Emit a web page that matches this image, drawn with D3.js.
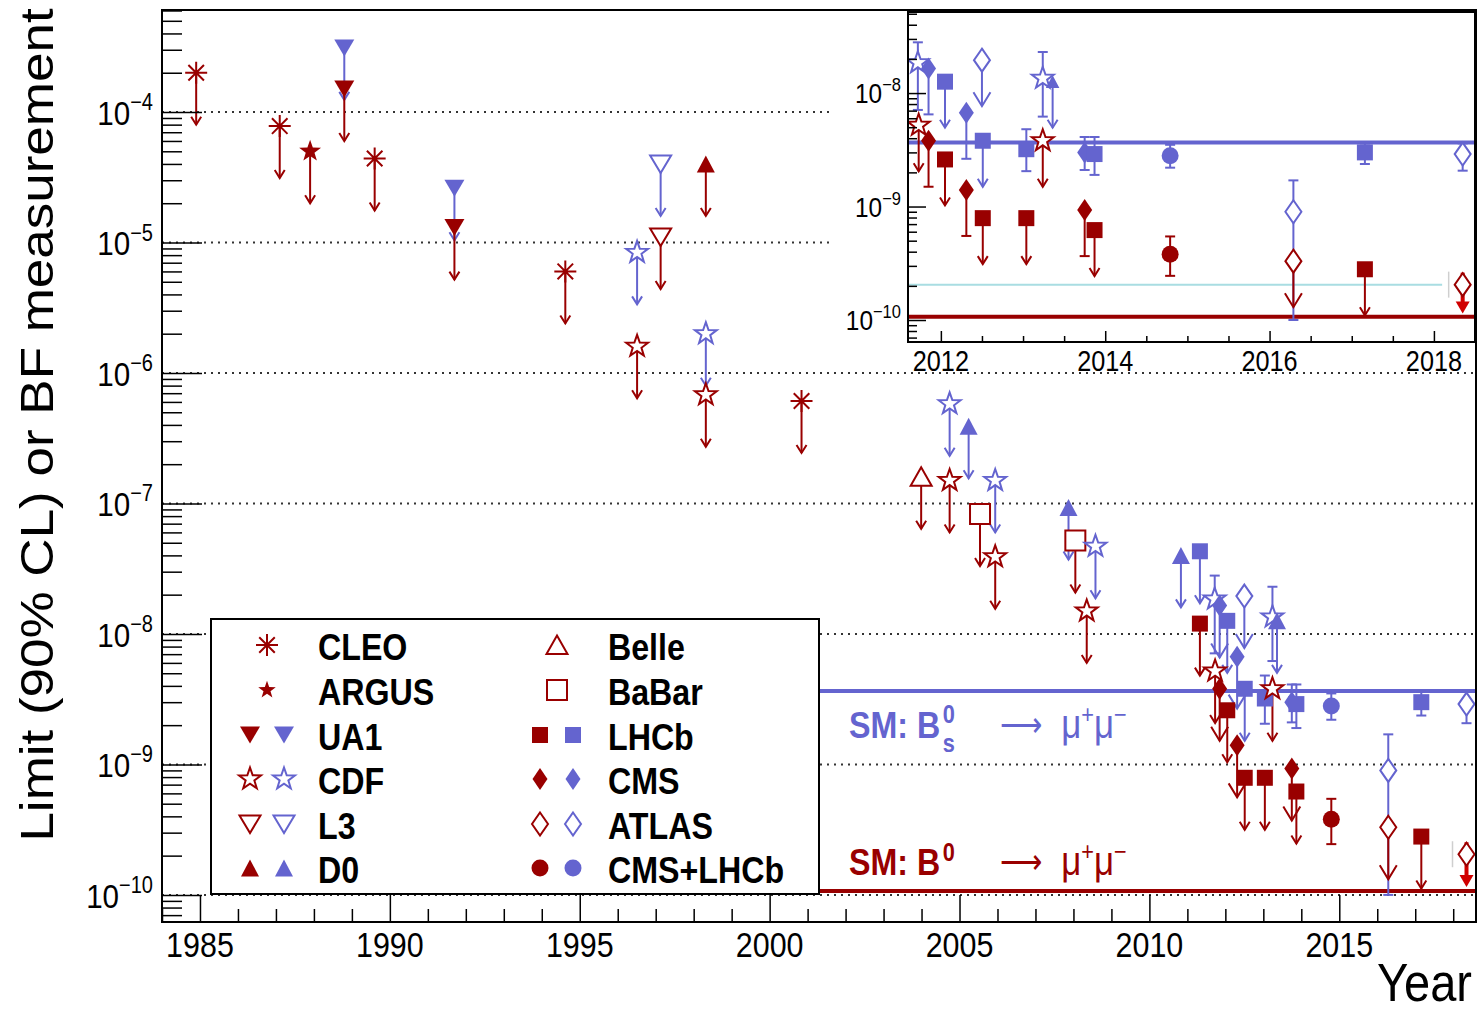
<!DOCTYPE html>
<html><head><meta charset="utf-8">
<script src="https://cdn.jsdelivr.net/npm/d3@7"></script>
<style>
html,body{margin:0;padding:0;background:#fff;}
svg{display:block;}
text{font-family:"Liberation Sans",Arial,Helvetica,sans-serif;}
</style></head><body>
<svg id="c" width="1480" height="1015"></svg>
<script>
// ---------------- data ----------------
const legendCol1 = ["CLEO","ARGUS","UA1","CDF","L3","D0"];
const legendCol2 = ["Belle","BaBar","LHCb","CMS","ATLAS","CMS+LHCb"];
const singleColourExps = ["CLEO","ARGUS","Belle","BaBar"];

const pointExp = ["CLEO","CLEO","ARGUS","UA1","UA1","CLEO","UA1","UA1","CLEO","CDF",
  "CDF","L3","L3","D0","CDF","CDF","CLEO","Belle","CDF","CDF",
  "D0","BaBar","CDF","CDF","D0","BaBar","CDF","CDF","D0","LHCb",
  "LHCb","CDF","CDF","CMS","CMS","LHCb","LHCb","CMS","CMS","ATLAS",
  "LHCb","LHCb","LHCb","LHCb","CDF","CDF","D0","CMS","CMS","LHCb",
  "LHCb","CMS+LHCb","CMS+LHCb","ATLAS","ATLAS","LHCb","LHCb","ATLAS","ATLAS"];
const pointDecay = ["B0","B0","B0","Bs","B0","B0","Bs","B0","B0","Bs",
  "B0","Bs","B0","B0","Bs","B0","B0","B0","Bs","B0",
  "Bs","B0","Bs","B0","Bs","B0","B0","Bs","Bs","Bs",
  "B0","Bs","B0","Bs","B0","Bs","B0","Bs","B0","Bs",
  "Bs","B0","Bs","B0","Bs","B0","Bs","Bs","B0","Bs",
  "B0","Bs","B0","Bs","B0","Bs","B0","Bs","B0"];
const pointYear = [1984.9,1987.1,1987.9,1988.8,1988.8,1989.6,1991.7,1991.7,1994.62,1996.51,
  1996.51,1997.13,1997.13,1998.32,1998.32,1998.32,2000.84,2003.99,2004.74,2004.74,
  2005.24,2005.54,2005.94,2005.94,2007.87,2008.05,2008.35,2008.58,2010.83,2011.33,
  2011.33,2011.72,2011.73,2011.85,2011.85,2012.05,2012.05,2012.31,2012.31,2012.5,
  2012.51,2012.51,2013.04,2013.04,2013.24,2013.24,2013.36,2013.75,2013.75,2013.87,
  2013.87,2014.79,2014.79,2016.29,2016.29,2017.16,2017.16,2018.35,2018.35];
const pointValue = [2.0e-4,7.8e-5,5.0e-5,3.1e-4,1.5e-4,4.4e-5,2.6e-5,1.3e-5,6.0e-6,8.4e-6,
  1.6e-6,4.0e-5,1.1e-5,4.0e-5,2.0e-6,6.8e-7,6.1e-7,1.6e-7,5.8e-7,1.5e-7,
  3.9e-7,8.3e-8,1.5e-7,3.9e-8,9.3e-8,5.2e-8,1.5e-8,4.7e-8,4.0e-8,4.3e-8,
  1.2e-8,1.85e-8,5.2e-9,1.65e-8,3.8e-9,1.26e-8,2.6e-9,6.7e-9,1.4e-9,1.95e-8,
  3.8e-9,7.9e-10,3.2e-9,7.9e-10,1.35e-8,3.8e-9,1.26e-8,3.0e-9,9.3e-10,2.9e-9,
  6.2e-10,2.8e-9,3.8e-10,9.0e-10,3.3e-10,3.0e-9,2.8e-10,2.9e-9,2.05e-10];
// "L" = upper limit, "M" = measurement with errors, "B" = bold limit
const pointKind = ["L","L","L","L","L","L","L","L","L","L",
  "L","L","L","L","L","L","L","L","L","L",
  "L","L","L","L","L","L","L","L","L","L",
  "L","M","L","L","L","L","L","L","L","L",
  "L","L","M","L","M","L","L","M","L","M",
  "L","M","M","M","L","M","L","M","B"];
const pointErrLow = [null,null,null,null,null,null,null,null,null,null,
  null,null,null,null,null,null,null,null,null,null,
  null,null,null,null,null,null,null,null,null,null,
  null,7.1e-9,null,null,null,null,null,null,null,null,
  null,null,2.05e-9,null,6.2e-9,null,null,2.1e-9,null,1.9e-9,
  null,2.2e-9,2.45e-10,1.0e-10,null,2.37e-9,null,2.07e-9,null];
const pointErrHigh = [null,null,null,null,null,null,null,null,null,null,
  null,null,null,null,null,null,null,null,null,null,
  null,null,null,null,null,null,null,null,null,null,
  null,2.8e-8,null,null,null,null,null,null,null,null,
  null,null,4.8e-9,null,2.3e-8,null,null,4.1e-9,null,4.1e-9,
  null,3.5e-9,5.45e-10,1.7e-9,null,3.6e-9,null,3.6e-9,null];

const smBs = 3.66e-9, smB0 = 1.07e-10, insetGuide = 2.05e-10;
const smLineStartYear = 2001.3, insetGuideEndYear = 2018.1;
const mainMajorYears = [1985,1990,1995,2000,2005,2010,2015];
const insetMajorYears = [2012,2014,2016,2018];
const mainDecades = [-4,-5,-6,-7,-8,-9,-10];
const insetDecades = [-8,-9,-10];

// ---------------- setup ----------------
const RED = "#990000", BLUE = "#6464cf";
const SQ = 0.87; // horizontal text compression of the original
const SERIF = "'Liberation Serif','Times New Roman',serif";
const svg = d3.select("#c");
svg.append("rect").attr("width",1480).attr("height",1015).attr("fill","#fff");

const M = {l:162, r:1476, t:10, b:922};
const I = {l:908, r:1475, t:12, b:342};
const xMain = d3.scaleLinear().domain([1984, 2018.6]).range([M.l, M.r]);
const yMain = d3.scaleLog().domain([6.2e-11, 6.05e-4]).range([M.b, M.t]);
const xIns = d3.scaleLinear().domain([2011.6, 2018.5]).range([I.l, I.r]);
const yIns = d3.scaleLog().domain([6.4e-11, 5.18e-8]).range([I.b, I.t]);

const defs = svg.append("defs");
defs.append("clipPath").attr("id","clipM").append("rect")
  .attr("x",M.l).attr("y",M.t).attr("width",M.r-M.l).attr("height",M.b-M.t);
defs.append("clipPath").attr("id","clipI").append("rect")
  .attr("x",I.l).attr("y",I.t).attr("width",I.r-I.l).attr("height",I.b-I.t);

const colOf = d => d === "Bs" ? BLUE : RED;

function starPath(R, r){
  const p = [];
  for (let i=0;i<10;i++){
    const a = -Math.PI/2 + i*Math.PI/5, rad = i%2 ? r : R;
    p.push([(rad*Math.cos(a)).toFixed(2),(rad*Math.sin(a)).toFixed(2)]);
  }
  return "M" + p.map(q=>q.join(",")).join("L") + "Z";
}
function drawMarker(g, exp, col, x, y, s){
  s = s || 1;
  const t = `translate(${x},${y}) scale(${s})`;
  const sw = 2/s;
  const P = d => g.append("path").attr("d", d).attr("transform", t);
  switch(exp){
    case "CLEO": {
      const R=11, a=R*0.707;
      P(`M${-R},0L${R},0M0,${-R}L0,${R}M${-a},${-a}L${a},${a}M${-a},${a}L${a},${-a}`)
        .attr("fill","none").attr("stroke",col).attr("stroke-width",sw); break; }
    case "ARGUS": P(starPath(11.5,4.6)).attr("fill",col); break;
    case "UA1": P("M-10,-8.5L10,-8.5L0,8.5Z").attr("fill",col); break;
    case "CDF": P(starPath(11.5,4.6)).attr("fill","#fff").attr("stroke",col).attr("stroke-width",sw); break;
    case "L3": P("M-10.5,-8.5L10.5,-8.5L0,9Z").attr("fill","#fff").attr("stroke",col).attr("stroke-width",sw); break;
    case "D0": P("M-9,8.5L9,8.5L0,-8.5Z").attr("fill",col); break;
    case "Belle": P("M-10.5,9L10.5,9L0,-9.5Z").attr("fill","#fff").attr("stroke",col).attr("stroke-width",sw); break;
    case "BaBar": P("M-10,-10H10V10H-10Z").attr("fill","#fff").attr("stroke",col).attr("stroke-width",sw); break;
    case "LHCb": P("M-8,-8H8V8H-8Z").attr("fill",col); break;
    case "CMS": P("M0,-11L7.5,0L0,11L-7.5,0Z").attr("fill",col); break;
    case "ATLAS": P("M0,-11.5L8,0L0,11.5L-8,0Z").attr("fill","#fff").attr("stroke",col).attr("stroke-width",sw); break;
    case "CMS+LHCb": g.append("circle").attr("cx",x).attr("cy",y).attr("r",8.5*s).attr("fill",col); break;
  }
}

function drawPoints(g, xs, ys, L, isInset){
  const lines = g.append("g").attr("stroke-width",2).attr("fill","none");
  const marks = g.append("g");
  pointYear.forEach((yr,i)=>{
    if (yr < xs.domain()[0] || yr > xs.domain()[1]) return;
    const exp = pointExp[i], col = colOf(pointDecay[i]);
    const x = xs(yr), y = ys(pointValue[i]);
    const kind = pointKind[i];
    if (kind === "L"){
      lines.append("line").attr("x1",x).attr("x2",x).attr("y1",y).attr("y2",y+L).attr("stroke",col);
      const big = (exp === "CMS" || exp === "ATLAS");
      if (isInset && exp === "CMS"){
        lines.append("line").attr("x1",x-5).attr("x2",x+5).attr("y1",y+L).attr("y2",y+L).attr("stroke",col);
      } else {
        const w = big ? 17 : 10, h = big ? 14 : 8;
        lines.append("path").attr("d",`M${x-w/2},${y+L-h}L${x},${y+L}L${x+w/2},${y+L-h}`).attr("stroke",col);
      }
    } else if (kind === "M"){
      const yl = Math.min(ys(Math.max(pointErrLow[i], ys.domain()[0])), ys.range()[0]);
      const yh = ys(pointErrHigh[i]);
      lines.append("line").attr("x1",x).attr("x2",x).attr("y1",yh).attr("y2",yl).attr("stroke",col);
      lines.append("line").attr("x1",x-5).attr("x2",x+5).attr("y1",yh).attr("y2",yh).attr("stroke",col);
      if (pointErrLow[i] > ys.domain()[0])
        lines.append("line").attr("x1",x-5).attr("x2",x+5).attr("y1",yl).attr("y2",yl).attr("stroke",col);
    } else if (kind === "B"){
      const y2 = y + L*0.63;
      lines.append("line").attr("x1",x-14).attr("x2",x-14).attr("y1",y-13).attr("y2",y+13)
        .attr("stroke","#cfcfcf").attr("stroke-width",1.5);
      lines.append("line").attr("x1",x).attr("x2",x).attr("y1",y-12).attr("y2",y2-8)
        .attr("stroke","#d00000").attr("stroke-width",4);
      lines.append("path").attr("d",`M${x-7},${y2-12}L${x+7},${y2-12}L${x},${y2}Z`)
        .attr("fill","#d00000").attr("stroke","none");
    }
    drawMarker(marks, exp, col, x, y, isInset && exp==="D0" ? 0.75 : 1);
  });
}

// ---------------- main plot ----------------
const gridG = svg.append("g").attr("clip-path","url(#clipM)");
mainDecades.forEach(k=>{
  gridG.append("line").attr("x1",M.l).attr("x2",M.r).attr("y1",yMain(Math.pow(10,k))).attr("y2",yMain(Math.pow(10,k)))
    .attr("stroke","#333").attr("stroke-width",2).attr("stroke-dasharray","2,5");
});
const smG = svg.append("g");
smG.append("line").attr("x1",xMain(smLineStartYear)).attr("x2",M.r).attr("y1",yMain(smBs)).attr("y2",yMain(smBs))
  .attr("stroke",BLUE).attr("stroke-width",4);
smG.append("line").attr("x1",xMain(smLineStartYear)).attr("x2",M.r).attr("y1",yMain(smB0)).attr("y2",yMain(smB0))
  .attr("stroke",RED).attr("stroke-width",4);

drawPoints(svg.append("g").attr("clip-path","url(#clipM)"), xMain, yMain, 52, false);

// main axes ticks
function minorLogs(scale){
  const [a,b] = scale.domain(), out = [];
  for (let k=-12;k<=-2;k++) for (let m=2;m<=9;m++){ const v=m*Math.pow(10,k); if (v>a && v<b) out.push(v); }
  return out;
}
function styleAxis(g, w){ g.select(".domain").remove(); g.selectAll("line").attr("stroke","#000").attr("stroke-width",w); g.selectAll("text").remove(); }
svg.append("g").attr("transform",`translate(${M.l},0)`)
  .call(d3.axisRight(yMain).tickValues(minorLogs(yMain)).tickSize(20).tickFormat(()=>""))
  .call(g=>styleAxis(g,1.5));
svg.append("g").attr("transform",`translate(${M.l},0)`)
  .call(d3.axisRight(yMain).tickValues(mainDecades.map(k=>Math.pow(10,k))).tickSize(40).tickFormat(()=>""))
  .call(g=>styleAxis(g,1.5));
svg.append("g").attr("transform",`translate(0,${M.b})`)
  .call(d3.axisTop(xMain).tickValues(d3.range(1984,2019).filter(v=>v%5!==0)).tickSize(13).tickFormat(()=>""))
  .call(g=>styleAxis(g,1.5));
svg.append("g").attr("transform",`translate(0,${M.b})`)
  .call(d3.axisTop(xMain).tickValues(mainMajorYears).tickSize(27).tickFormat(()=>""))
  .call(g=>styleAxis(g,1.5));

// legend
const lg = svg.append("g");
lg.append("rect").attr("x",211).attr("y",619).attr("width",608).attr("height",275)
  .attr("fill","#fff").attr("stroke","#000").attr("stroke-width",2);
const rowY = [645,690,735,779,824,868];
function legendColumn(names, xRed, xBlue, xSingle, xText){
  names.forEach((n,i)=>{
    const y = rowY[i];
    if (singleColourExps.includes(n)) drawMarker(lg, n, RED, xSingle, y, n==="ARGUS"?0.8:1);
    else { drawMarker(lg, n, RED, xRed, y, 1); drawMarker(lg, n, BLUE, xBlue, y, 1); }
    lg.append("g").attr("transform",`translate(${xText},${y+15}) scale(${SQ},1)`)
      .append("text").attr("font-size",37).attr("font-weight","bold").attr("fill","#000").text(n);
  });
}
legendColumn(legendCol1, 250, 284, 267, 318);
legendColumn(legendCol2, 540, 573, 557, 608);

// SM labels
function smLabel(yb, col, isBs){
  const g = svg.append("g").attr("transform",`translate(849,${yb}) scale(${SQ},1)`).attr("fill",col);
  const t1 = g.append("text").attr("font-weight","bold").attr("font-size",37).text("SM: B");
  const w = t1.node().getComputedTextLength();
  g.append("text").attr("x",w+3).attr("y",isBs?-15:-14).attr("font-weight","bold").attr("font-size",25).text("0");
  if (isBs) g.append("text").attr("x",w+3).attr("y",14).attr("font-weight","bold").attr("font-size",25).text("s");
  g.append("text").attr("x",174).attr("y",-2).attr("font-family","'DejaVu Sans',sans-serif")
    .attr("font-weight","normal").attr("font-size",34).text("\u27f6");
  const mu = g.append("text").attr("x",244).attr("font-family",SERIF).attr("font-size",40);
  mu.append("tspan").text("\u03bc");
  mu.append("tspan").attr("font-size",25).attr("dy",-15).text("+");
  mu.append("tspan").attr("dy",15).text("\u03bc");
  mu.append("tspan").attr("font-size",25).attr("dy",-15).text("\u2212");
}
smLabel(738, BLUE, true);
smLabel(875, RED, false);

// ---------------- inset ----------------
svg.append("rect").attr("x",830).attr("y",M.t).attr("width",M.r-830).attr("height",361).attr("fill","#fff");
const ig = svg.append("g").attr("clip-path","url(#clipI)");
ig.append("line").attr("x1",I.l).attr("x2",xIns(insetGuideEndYear)).attr("y1",yIns(insetGuide)).attr("y2",yIns(insetGuide))
  .attr("stroke","#a9dde2").attr("stroke-width",2);
ig.append("line").attr("x1",I.l).attr("x2",I.r).attr("y1",yIns(smBs)).attr("y2",yIns(smBs))
  .attr("stroke",BLUE).attr("stroke-width",4);
ig.append("line").attr("x1",I.l).attr("x2",I.r).attr("y1",yIns(smB0)).attr("y2",yIns(smB0))
  .attr("stroke",RED).attr("stroke-width",4);
drawPoints(ig, xIns, yIns, 46, true);

svg.append("g").attr("transform",`translate(${I.l},0)`)
  .call(d3.axisRight(yIns).tickValues(minorLogs(yIns)).tickSize(9).tickFormat(()=>""))
  .call(g=>styleAxis(g,1.5));
svg.append("g").attr("transform",`translate(${I.l},0)`)
  .call(d3.axisRight(yIns).tickValues(insetDecades.map(k=>Math.pow(10,k))).tickSize(18).tickFormat(()=>""))
  .call(g=>styleAxis(g,1.5));
svg.append("g").attr("transform",`translate(0,${I.b})`)
  .call(d3.axisTop(xIns).tickValues(d3.range(2012,2018.51,0.5).filter(v=>!insetMajorYears.includes(v))).tickSize(6).tickFormat(()=>""))
  .call(g=>styleAxis(g,1.5));
svg.append("g").attr("transform",`translate(0,${I.b})`)
  .call(d3.axisTop(xIns).tickValues(insetMajorYears).tickSize(11).tickFormat(()=>""))
  .call(g=>styleAxis(g,1.5));
svg.append("rect").attr("x",I.l).attr("y",I.t).attr("width",I.r-I.l).attr("height",I.b-I.t)
  .attr("fill","none").attr("stroke","#000").attr("stroke-width",2);

// ---------------- frame & labels ----------------
svg.append("rect").attr("x",M.l).attr("y",M.t).attr("width",M.r-M.l).attr("height",M.b-M.t)
  .attr("fill","none").attr("stroke","#000").attr("stroke-width",2);

function powLabel(x, y, k, fs, sfs, sdy){
  const t = svg.append("g").attr("transform",`translate(${x},${y}) scale(${SQ},1)`)
    .append("text").attr("text-anchor","end").attr("font-size",fs).attr("fill","#000");
  t.append("tspan").text("10");
  t.append("tspan").attr("font-size",sfs).attr("dy",-sdy).text("\u2212"+(-k));
}
mainDecades.forEach(k=> powLabel(153, yMain(Math.pow(10,k))+13, k, 34, 23, 15));
insetDecades.forEach(k=> powLabel(901, yIns(Math.pow(10,k))+10, k, 28, 19, 12));

mainMajorYears.forEach(yr=>{
  svg.append("g").attr("transform",`translate(${xMain(yr)},957) scale(${SQ},1)`)
    .append("text").attr("text-anchor","middle").attr("font-size",35).text(yr);
});
insetMajorYears.forEach(yr=>{
  svg.append("g").attr("transform",`translate(${xIns(yr)},371) scale(${SQ},1)`)
    .append("text").attr("text-anchor","middle").attr("font-size",29).text(yr);
});

svg.append("g").attr("transform",`translate(1472,1001) scale(${SQ},1)`)
  .append("text").attr("text-anchor","end").attr("font-size",54).text("Year");
svg.append("g").attr("transform",`translate(53,425) scale(${SQ},1) rotate(-90)`)
  .append("text").attr("text-anchor","middle").attr("font-size",53).text("Limit (90% CL) or BF measurement");
</script>
</body></html>
